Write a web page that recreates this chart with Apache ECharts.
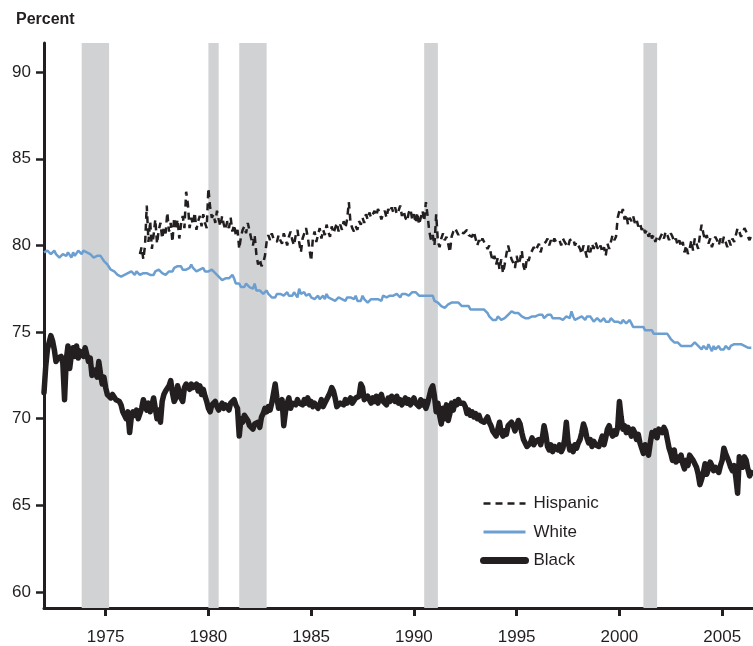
<!DOCTYPE html>
<html>
<head>
<meta charset="utf-8">
<title>Labor force participation</title>
<script src="https://cdn.jsdelivr.net/npm/echarts@6/dist/echarts.min.js"></script>
<style>
  html, body { margin: 0; padding: 0; background: #fff; }
  #chart { width: 753px; height: 646px; }
</style>
</head>
<body>
<div id="chart"></div>
<script>
// monthly data, black and white start Jan 1972, hispanic starts Sep 1976
var blackStart = 1972;
var whiteStart = 1972;
var hispanicStart = 1976 + 8 / 12;

var blackRate = [
  71.5, 73.0, 74.0, 74.4, 74.8, 74.5, 74.0, 73.3, 73.5, 73.4, 73.6, 73.2,
  71.1, 73.4, 74.2, 72.9, 73.7, 74.1, 73.6, 74.2, 73.5, 73.9, 74.0, 73.6,
  74.1, 73.7, 73.3, 73.5, 72.5, 72.4, 72.8, 72.4, 73.3, 72.6, 72.0, 72.4,
  71.8, 71.4, 71.3, 71.2, 71.4, 71.3, 71.1, 71.2, 71.0, 70.8, 70.4, 70.2,
  70.0, 70.4, 69.2, 70.1, 70.4, 70.2, 70.5, 70.0, 70.3, 70.6, 71.1, 70.8,
  70.5, 70.9, 70.4, 70.8, 71.2, 70.6, 70.0, 70.5, 69.8, 71.0, 71.4, 71.6,
  71.7, 71.9, 72.2, 71.5, 71.0, 71.2, 71.9, 72.0, 71.2, 71.0, 71.8, 72.0,
  71.9, 71.7, 72.0, 71.8, 71.9, 72.0, 71.6, 71.9, 71.4, 71.7, 71.3, 71.0,
  70.6, 70.4, 70.8, 70.9, 71.0, 70.7, 70.5, 70.7, 70.9, 70.6, 70.8, 70.7,
  70.5, 70.9, 71.0, 71.1, 70.8, 70.6, 69.0, 70.0, 69.8, 70.2, 70.3, 69.9,
  69.6, 69.5, 69.4, 69.7, 69.6, 69.8, 69.5, 70.1, 70.3, 70.6, 70.4, 70.7,
  70.5, 70.9, 71.0, 72.0, 71.2, 70.6, 70.8, 71.1, 69.6, 70.4, 70.9, 71.2,
  70.6, 70.9, 71.0, 70.8, 71.1, 70.9, 71.0, 70.8, 71.1, 70.9, 71.2, 70.8,
  71.0, 70.7, 70.9, 71.0, 70.6, 70.8, 71.1, 70.7, 70.9, 71.0, 71.3, 71.5,
  71.8, 71.6, 71.2, 70.7, 70.6, 70.9, 71.0, 70.8, 71.1, 70.9, 71.0, 71.2,
  70.9, 71.0, 71.2, 71.1, 71.3, 72.0, 71.8, 71.1, 71.0, 71.3, 71.1, 70.9,
  71.2, 71.0, 71.3, 70.9, 71.2, 71.4, 71.0, 71.1, 70.8, 71.2, 71.0, 71.3,
  71.2, 71.0, 71.3, 70.9, 71.1, 70.8, 71.0, 71.2, 70.9, 71.1, 70.8, 71.0,
  71.2, 70.9, 71.0, 70.7, 71.1, 70.8, 71.0, 70.6, 70.9, 71.0, 71.7, 71.9,
  71.3, 70.4, 70.9, 70.2, 69.7, 70.6, 70.0, 70.8, 69.9, 70.3, 70.9, 70.5,
  71.0, 70.8, 71.1, 70.9, 71.0, 70.9, 70.7, 70.3, 70.5, 70.2, 70.4, 70.1,
  70.3, 70.0, 70.2, 69.9, 70.0, 69.8, 69.7, 70.1, 69.8, 69.6, 69.3, 69.2,
  69.0, 69.4, 69.8, 69.2, 69.0, 69.3, 69.1, 69.6, 69.5, 69.8, 69.6, 69.3,
  69.6, 69.9, 69.7, 69.2, 68.8, 68.6, 68.4, 68.3, 68.6, 68.9, 68.5, 68.7,
  68.6, 68.8, 68.5, 68.9, 69.6, 69.1, 68.4, 68.2, 68.5, 68.1, 68.4, 68.3,
  68.2, 68.5, 68.1, 68.3, 68.8, 69.8, 68.7, 68.2, 68.4, 68.1, 68.5, 68.3,
  68.6, 68.8, 69.2, 69.7, 69.4, 68.9, 68.6, 68.8, 68.4, 68.7, 68.5, 68.6,
  68.4, 68.7, 69.0, 68.5, 68.9, 69.4, 69.6, 69.2, 69.0, 69.3, 69.1, 69.5,
  71.0, 70.1, 69.4, 69.6, 69.2, 69.5, 69.3, 69.0, 69.4, 69.2, 68.8, 69.1,
  68.6, 68.3, 68.0, 68.5, 68.2, 67.9, 68.6, 69.2, 69.0, 69.3, 68.9, 69.4,
  69.4, 69.2, 69.5, 69.3, 68.8, 68.3, 68.0, 67.6, 68.2, 67.5, 67.8, 67.6,
  67.9, 67.4, 67.1, 67.6, 67.3, 67.9, 68.0, 67.6, 67.7, 67.2, 66.8, 66.2,
  66.5, 66.9, 67.4, 66.8, 67.1, 67.5, 67.3, 67.0, 67.2, 67.1, 66.9, 67.3,
  67.6, 68.3, 68.0, 67.9, 67.5, 67.2, 67.0, 67.3, 66.6, 65.7, 67.8, 67.5,
  67.2, 67.8, 67.6, 67.1, 66.7, 66.9
];

var whiteRate = [
  79.6, 79.5, 79.7, 79.6, 79.5, 79.6, 79.7, 79.5, 79.4, 79.3, 79.2, 79.5,
  79.6, 79.4, 79.6, 79.5, 79.3, 79.6, 79.4, 79.5, 79.7, 79.6, 79.5, 79.7,
  79.8, 79.6, 79.7, 79.5, 79.6, 79.3, 79.2, 79.4, 79.5, 79.4, 79.3, 79.1,
  79.0, 78.9, 78.8, 78.6, 78.6, 78.5, 78.4, 78.3, 78.4, 78.2, 78.1, 78.3,
  78.2, 78.4, 78.3, 78.5, 78.4, 78.3, 78.5, 78.4, 78.3, 78.4, 78.4, 78.3,
  78.4, 78.5, 78.3, 78.4, 78.3, 78.5, 78.4, 78.6, 78.5, 78.4, 78.3, 78.3,
  78.4, 78.5, 78.6, 78.5, 78.7, 78.6, 78.8, 78.7, 78.8, 78.6, 78.5, 78.6,
  78.5, 78.7, 78.9, 78.7, 78.6, 78.5, 78.4, 78.6, 78.5, 78.7, 78.5, 78.6,
  78.5, 78.4, 78.6, 78.5, 78.4, 78.3, 78.2, 78.1, 78.0, 77.9, 78.1, 78.0,
  78.1, 78.2, 78.3, 78.1, 77.8, 77.7, 77.8, 77.6, 77.7, 77.6, 77.8, 77.7,
  77.6, 77.7, 77.5, 77.8, 77.4, 77.3, 77.4, 77.3, 77.2, 77.3, 77.4, 77.2,
  77.1, 77.0, 76.9, 77.0, 77.2, 77.3, 77.2, 77.3, 77.1, 77.2, 77.3, 77.1,
  77.2, 77.1, 77.3, 77.2, 77.0, 77.5, 77.2, 77.1, 77.3, 77.1, 77.0, 77.2,
  77.0, 77.1, 76.9, 77.0, 77.1, 76.9, 77.0, 77.1, 76.9, 77.2, 77.0, 77.1,
  76.9, 77.0, 76.8, 76.9, 77.0, 77.1, 76.9, 77.0, 76.8, 77.0, 76.9, 77.0,
  77.0, 76.9, 77.1, 76.8, 76.9, 76.8, 77.1, 76.9, 76.8, 76.7, 76.8, 76.9,
  76.8, 76.9, 76.8, 76.9, 77.0, 76.8, 77.1, 77.0, 77.0, 76.9, 77.1, 77.0,
  77.1, 77.0, 77.2, 77.1, 77.0, 77.2, 77.3, 77.2, 77.3, 77.1, 77.2, 77.3,
  77.2, 77.3, 77.2, 77.1, 77.2, 77.1, 77.0, 77.1, 77.0, 77.1, 77.0, 77.1,
  76.8, 76.9, 76.7, 76.6, 76.5, 76.6, 76.4, 76.5, 76.6, 76.5, 76.7, 76.6,
  76.7, 76.8, 76.7, 76.6, 76.5, 76.6, 76.5, 76.4, 76.5, 76.3, 76.4, 76.3,
  76.4, 76.3, 76.4, 76.3, 76.2, 76.3, 76.2, 76.1, 75.9, 75.8, 75.7, 75.8,
  75.7, 75.9, 75.8, 75.7, 75.6, 75.8, 75.9, 76.0, 76.1, 76.2, 76.3, 76.1,
  76.2, 76.1, 76.0, 75.9, 76.0, 75.8, 75.9, 75.8, 75.7, 75.9, 75.8, 75.9,
  75.8, 76.0, 75.9, 76.0, 75.8, 75.9, 76.0, 75.9, 76.0, 75.8, 75.9, 75.8,
  75.9, 75.8, 75.9, 75.7, 75.8, 75.9, 76.0, 75.8, 76.2, 75.9, 75.7, 75.8,
  75.8, 75.7, 75.9, 75.8, 75.7, 75.9, 75.8, 75.9, 75.8, 75.6, 75.7, 75.8,
  75.7, 75.6, 75.7, 75.8, 75.6, 75.7, 75.6, 75.8, 75.7, 75.6, 75.7, 75.6,
  75.7, 75.5, 75.7, 75.6, 75.5, 75.6, 75.7, 75.5, 75.3, 75.4, 75.3, 75.4,
  75.3, 75.2, 75.3, 75.1, 75.2, 75.1, 75.0, 75.1, 74.9, 75.0, 74.9, 75.0,
  74.9, 75.0, 74.9, 74.8, 74.9, 74.8, 74.6, 74.5, 74.4, 74.3, 74.4, 74.3,
  74.2, 74.3, 74.2, 74.1, 74.2, 74.3, 74.2, 74.1, 74.4, 74.3, 74.2, 74.1,
  74.0, 74.2, 74.1, 74.0, 74.3, 74.1, 73.9, 74.2, 74.0, 74.1, 74.2, 74.0,
  74.1, 74.0, 74.2, 74.1, 74.0, 74.2, 74.1, 74.3, 74.2, 74.3, 74.2, 74.3,
  74.3, 74.2, 74.3, 74.1, 74.2, 74.1
];

var hispanicRate = [
  79.5, 79.9, 79.2, 80.0,
  82.3, 80.2, 81.4, 79.8, 80.6, 81.5, 80.1, 80.9, 81.3, 80.4, 81.0, 80.7,
  81.9, 80.8, 81.3, 80.2, 81.6, 80.9, 81.5, 80.4, 81.2, 81.7, 81.0, 83.1,
  82.4, 81.0, 81.6, 81.2, 81.9, 80.9, 81.4, 81.7, 81.1, 81.8, 81.3, 81.0,
  83.3, 82.2, 81.6, 81.8, 81.3, 82.0, 81.5, 81.1, 81.7, 81.2, 80.9, 81.4,
  81.0, 81.6, 80.8, 81.2, 80.6, 80.9, 79.8, 80.5, 80.9, 81.1, 80.7, 81.3,
  81.2, 80.4, 80.0, 80.6, 79.5, 78.9, 79.2, 78.8, 79.0, 79.4, 80.2, 80.6,
  80.3, 80.7, 80.4, 80.5, 80.2, 80.6, 80.3, 80.1, 80.7, 80.4, 80.0, 80.5,
  80.8, 80.3, 80.0, 80.6, 80.9, 80.2, 79.6, 80.4, 80.7, 81.0, 80.5, 79.8,
  79.1, 80.4, 80.8, 80.2, 80.6, 81.0, 80.4, 80.9, 80.6, 81.2, 80.8, 80.5,
  81.1, 80.7, 81.0, 81.3, 80.8, 81.2, 80.9, 81.4, 81.0, 81.5, 82.5, 81.3,
  81.0, 80.8, 81.1, 80.9, 81.4, 81.2, 81.6, 81.3, 81.8, 81.5, 81.9, 81.6,
  81.8, 82.0, 81.7, 82.1, 81.9, 81.5, 81.8, 82.0, 81.6, 82.1, 81.9, 82.2,
  81.9, 82.2, 81.8, 82.0, 82.3, 81.7, 82.0, 81.6, 81.4, 81.9, 82.1, 81.5,
  81.8, 81.3, 81.9, 81.2, 81.6, 82.0, 81.4, 82.5, 81.7, 80.8, 80.3, 80.6,
  80.0, 81.8, 80.2, 79.9, 80.4, 80.7, 80.3, 80.5, 80.1, 79.6, 80.5, 80.8,
  81.0, 80.9, 80.6, 80.8, 80.9, 80.7, 80.8, 80.9, 80.6, 80.7, 80.5, 80.8,
  80.4, 80.0, 80.3, 80.1, 80.4, 80.2, 80.3, 79.8, 80.0, 79.5, 79.1, 79.4,
  78.9, 79.3, 78.6, 79.2, 78.4, 78.9, 79.5, 80.0, 79.6, 79.2, 79.0, 78.7,
  79.4, 78.9, 79.2, 79.7, 78.8, 78.5, 79.3, 79.1, 79.5, 79.6, 79.9, 79.7,
  79.8, 80.1, 79.6, 80.0, 79.9, 80.2, 80.4, 80.0, 80.3, 80.1, 80.4, 80.2,
  80.1, 80.3, 80.0, 80.4, 80.2, 80.1, 79.9, 80.3, 80.2, 80.4, 80.0, 80.2,
  80.1, 79.8, 79.5, 80.0, 79.7, 79.3, 80.0, 79.6, 80.1, 79.8, 80.2, 79.9,
  79.7, 80.0, 79.6, 79.9, 79.4, 80.1, 79.8, 80.2, 80.6, 80.3, 80.5, 81.6,
  82.0, 81.8, 82.1, 81.5, 81.8, 81.2, 81.6, 81.4, 81.7, 81.3, 81.5, 81.1,
  81.3, 80.9, 81.1, 80.7, 80.9, 80.5, 80.8, 80.4, 80.6, 80.2, 80.5, 80.3,
  80.5, 80.7, 80.4, 80.8, 80.6, 80.3, 80.7, 80.5, 80.2, 80.4, 80.0, 80.3,
  79.9, 80.2, 79.6, 80.0, 79.5, 79.8, 80.3, 79.7, 80.4, 80.1, 79.8, 80.6,
  81.2, 80.7, 80.3, 80.6, 80.1, 80.4, 79.9, 80.2, 80.5, 80.3, 80.0, 80.4,
  80.1, 80.5, 80.2, 79.9, 80.3, 80.0, 80.4, 80.2, 80.6, 81.0, 80.8, 80.5,
  80.7, 81.0, 80.8, 80.5, 80.3, 80.6
];

// recessions (start, end) in years
var recessions = [
  [1973 + 10 / 12, 1975 + 2 / 12],
  [1980.0, 1980.5],
  [1981.5, 1982 + 10 / 12],
  [1990.5, 1991 + 2 / 12],
  [2001 + 2 / 12, 2001 + 10 / 12]
];

var xTicks = [1975, 1980, 1985, 1990, 1995, 2000, 2005];
var yTicks = [60, 65, 70, 75, 80, 85, 90];

function toPairs(start, arr) {
  var out = [];
  for (var i = 0; i < arr.length; i++) {
    out.push([start + i / 12, arr[i]]);
  }
  return out;
}

var myChart = echarts.init(document.getElementById("chart"));
var ink = "#231f20";
var blue = "#6c9fd1";
var font = "'Liberation Sans', Arial, sans-serif";
var yMin = 59.08;
var yMax = 91.68;

var option = {
  animation: false,
  textStyle: { fontFamily: font },
  title: {
    text: "Percent",
    left: 11,
    top: 7,
    textStyle: { fontSize: 16, fontWeight: "bold", color: ink, fontFamily: font }
  },
  legend: {
    orient: "vertical",
    left: 480,
    top: 495,
    padding: 0,
    itemWidth: 42,
    itemHeight: 14,
    itemGap: 11.5,
    itemStyle: { opacity: 0 },
    data: [
      { name: "Hispanic", lineStyle: { width: 2.5, type: [7, 5] } },
      { name: "White", lineStyle: { width: 3 } },
      { name: "Black", lineStyle: { width: 7, cap: "round" } }
    ],
    textStyle: { fontSize: 17, color: ink, padding: [0, 0, 0, 3] }
  },
  grid: {
    left: 44,
    right: 0,
    top: 43,
    bottom: 38,
    containLabel: false
  },
  xAxis: {
    type: "value",
    min: 1972,
    max: 2006.5,
    splitLine: { show: false },
    axisLine: { show: true, lineStyle: { color: ink, width: 3 } },
    axisTick: {
      show: true,
      length: 8,
      customValues: xTicks,
      lineStyle: { color: ink, width: 3 }
    },
    axisLabel: {
      customValues: xTicks,
      margin: 21,
      fontSize: 17,
      color: ink,
      formatter: function (v) {
        return String(v);
      }
    }
  },
  yAxis: {
    type: "value",
    min: yMin,
    max: yMax,
    splitLine: { show: false },
    axisLine: { show: true, onZero: false, lineStyle: { color: ink, width: 3 } },
    axisTick: {
      show: true,
      length: 8,
      customValues: yTicks,
      lineStyle: { color: ink, width: 2.5 }
    },
    axisLabel: {
      customValues: yTicks,
      margin: 13,
      fontSize: 17,
      color: ink
    }
  },
  series: [
    {
      name: "recessions",
      type: "line",
      data: [],
      silent: true,
      z: 1,
      markArea: {
        silent: true,
        itemStyle: { color: "#d1d2d4" },
        data: recessions.map(function (r) {
          return [{ xAxis: r[0], yAxis: yMax }, { xAxis: r[1], yAxis: yMin }];
        })
      }
    },
    {
      name: "Hispanic",
      type: "line",
      symbol: "none",
      z: 3,
      lineStyle: { color: ink, width: 2.5, type: [7, 5] },
      itemStyle: { color: ink },
      data: toPairs(hispanicStart, hispanicRate)
    },
    {
      name: "White",
      type: "line",
      symbol: "none",
      z: 3,
      lineStyle: { color: blue, width: 2.5 },
      itemStyle: { color: blue },
      data: toPairs(whiteStart, whiteRate)
    },
    {
      name: "Black",
      type: "line",
      symbol: "none",
      z: 4,
      lineStyle: { color: ink, width: 5.5, join: "round", cap: "round" },
      itemStyle: { color: ink },
      data: toPairs(blackStart, blackRate)
    }
  ]
};

myChart.setOption(option);
window.addEventListener("resize", function () {
  if (myChart) myChart.resize();
});
</script>
</body>
</html>
